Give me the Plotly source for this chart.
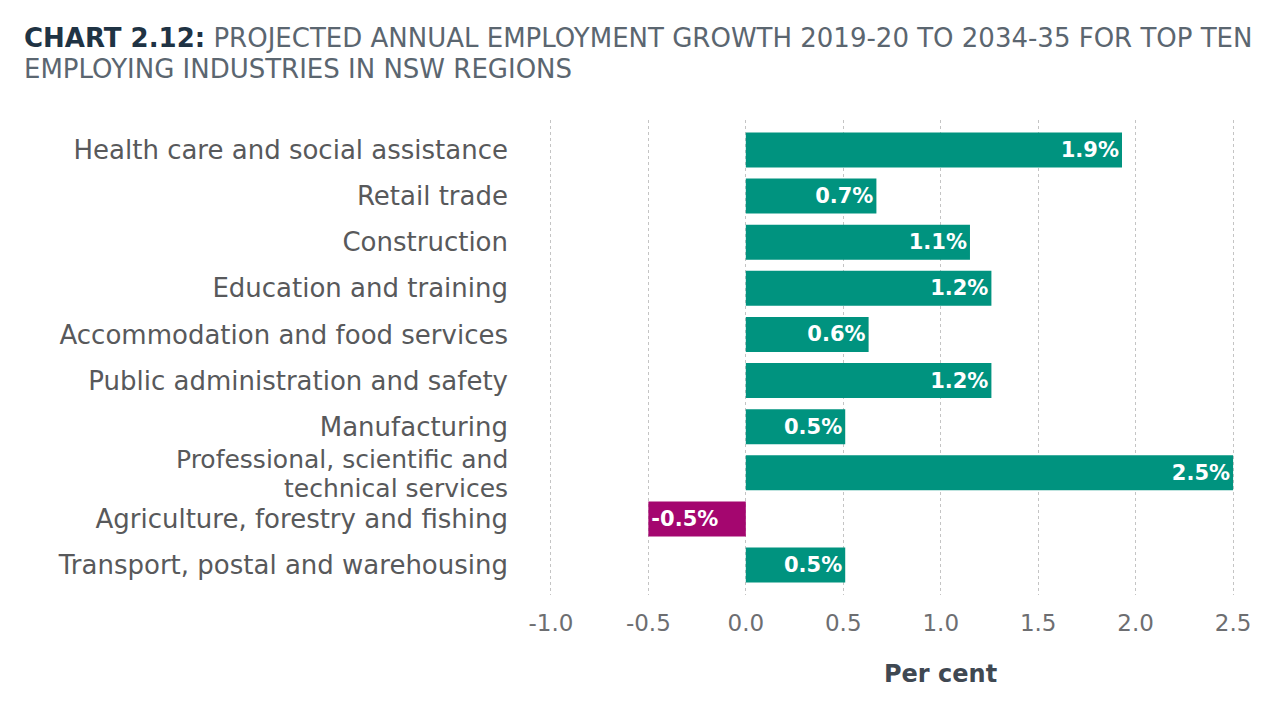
import plotly.graph_objects as go

industries = [
    "Health care and social assistance",
    "Retail trade",
    "Construction",
    "Education and training",
    "Accommodation and food services",
    "Public administration and safety",
    "Manufacturing",
    "Professional, scientific and technical services",
    "Agriculture, forestry and fishing",
    "Transport, postal and warehousing",
]
# label lines as printed on the axis (one wrapped category)
industry_label_lines = [
    ["Health care and social assistance"],
    ["Retail trade"],
    ["Construction"],
    ["Education and training"],
    ["Accommodation and food services"],
    ["Public administration and safety"],
    ["Manufacturing"],
    ["Professional, scientific and", "technical services"],
    ["Agriculture, forestry and fishing"],
    ["Transport, postal and warehousing"],
]
growth = [1.93, 0.67, 1.15, 1.26, 0.63, 1.26, 0.51, 2.5, -0.5, 0.51]
value_labels = ["1.9%", "0.7%", "1.1%", "1.2%", "0.6%", "1.2%", "0.5%", "2.5%", "-0.5%", "0.5%"]
x_ticks = [-1.0, -0.5, 0.0, 0.5, 1.0, 1.5, 2.0, 2.5]
x_tick_text = ["-1.0", "-0.5", "0.0", "0.5", "1.0", "1.5", "2.0", "2.5"]
title_lines = [
    "<b>CHART 2.12:</b><span style='color:#5b6670'> PROJECTED ANNUAL EMPLOYMENT GROWTH 2019-20 TO 2034-35 FOR TOP TEN</span>",
    "EMPLOYING INDUSTRIES IN NSW REGIONS",
]

TEAL = "#00937f"
MAGENTA = "#a4066f"
colors = [MAGENTA if v < 0 else TEAL for v in growth]

FONT = "DejaVu Sans"
LABEL_COLOR = "#58595b"
LABEL_SIZE = 26

L, R, T, B = 539, 50, 112, 133
PLOT_H = 720 - T - B
PLOT_W = 1279 - L - R

fig = go.Figure(
    go.Bar(
        x=growth,
        y=industries,
        orientation="h",
        marker=dict(color=colors, line=dict(width=0)),
        width=0.76,
        text=value_labels,
        textposition="inside",
        insidetextanchor="end",
        textfont=dict(family=FONT, size=21, color="white", weight="bold"),
        hoverinfo="skip",
    )
)

# category labels: single-line ones as ticks, wrapped one as tight two-line annotations
tick_text = [lines[0] if len(lines) == 1 else "" for lines in industry_label_lines]
annotations = []
for name, lines in zip(industries, industry_label_lines):
    if len(lines) > 1:
        for i, line in enumerate(lines):
            annotations.append(dict(
                text=line, xref="paper", yref="y", x=-37 / PLOT_W, y=name,
                xanchor="right", yanchor="middle",
                yshift=13 - i * 29,
                font=dict(family=FONT, size=25, color=LABEL_COLOR),
                showarrow=False,
            ))

# title lines (layout px centre)
for line, y_px, color in zip(title_lines, [30, 61], ["#1f3344", "#5b6670"]):
    annotations.append(dict(
        text=line,
        xref="paper", yref="paper",
        x=-(L - 14) / PLOT_W, y=1 + (T - y_px) / PLOT_H,
        xanchor="left", yanchor="middle",
        font=dict(family=FONT, size=26, color=color),
        showarrow=False,
    ))

annotations.append(dict(
    text="<b>Per cent</b>",
    xref="paper", yref="paper",
    x=(932 - L) / PLOT_W, y=-(666 - (720 - B)) / PLOT_H,
    xanchor="center", yanchor="middle",
    font=dict(family=FONT, size=24, color="#3f4852"),
    showarrow=False,
))

fig.update_layout(
    width=1279,
    height=720,
    paper_bgcolor="white",
    plot_bgcolor="white",
    margin=dict(l=L, r=R, t=T, b=B, autoexpand=False),
    showlegend=False,
    font=dict(family=FONT),
    xaxis=dict(
        range=[-1.02, 2.52],
        tickvals=x_ticks,
        ticktext=x_tick_text,
        showgrid=True,
        gridcolor="#c4c4c4",
        griddash="dot",
        gridwidth=1,
        zeroline=False,
        showline=False,
        ticks="",
        tickfont=dict(family=FONT, size=23, color="#6d6e71"),
        ticklabelstandoff=12,
        automargin=False,
        fixedrange=True,
    ),
    yaxis=dict(
        categoryorder="array",
        categoryarray=industries,
        tickvals=industries,
        ticktext=tick_text,
        autorange=False,
        range=[9.65, -0.65],
        showgrid=False,
        zeroline=False,
        showline=False,
        ticks="",
        tickfont=dict(family=FONT, size=LABEL_SIZE, color=LABEL_COLOR),
        ticklabelstandoff=38,
        automargin=False,
        fixedrange=True,
    ),
    annotations=annotations,
)

fig.write_html("out.html")
